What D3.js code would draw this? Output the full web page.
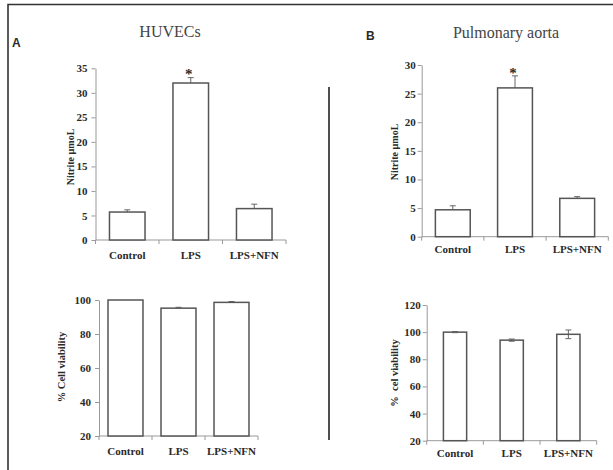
<!DOCTYPE html>
<html>
<head>
<meta charset="utf-8">
<script src="https://cdn.jsdelivr.net/npm/d3@7"></script>
<style>
  body { margin: 0; background: #fff; }
  svg { display: block; }
  text { font-family: "Liberation Serif", "Times New Roman", serif; fill: #2a2a2a; }
</style>
</head>
<body>
<svg width="613" height="470"></svg>
<script>
// categories shared by all four panels
var categories = ['Control', 'LPS', 'LPS+NFN'];

// HUVECs
var huvecNitrite = [5.7, 32.0, 6.4];
var huvecNitriteErr = [0.45, 1.1, 0.9];
var huvecViability = [100, 95.2, 98.6];
var huvecViabilityErr = [0, 0.5, 0.5];

// Pulmonary aorta
var aortaNitrite = [4.7, 26.0, 6.7];
var aortaNitriteErr = [0.7, 2.1, 0.3];
var aortaViability = [100, 94.1, 98.4];
var aortaViabilityErr = [0.4, 0.8, 3.2];

// tick labels
var nitriteTicksA = [0, 5, 10, 15, 20, 25, 30, 35];
var nitriteTicksB = [0, 5, 10, 15, 20, 25, 30];
var viabilityTicksA = [20, 40, 60, 80, 100];
var viabilityTicksB = [20, 40, 60, 80, 100, 120];

// significance markers (index of bar with *)
var starA = [1];
var starB = [1];

var serif = '"Liberation Serif", "Times New Roman", serif';
var svg = d3.select('svg');

// outer frame (only top + left visible in the crop)
svg.append('path')
    .attr('d', 'M8,470 V4.5 H613')
    .attr('fill', 'none')
    .attr('stroke', '#333')
    .attr('stroke-width', 1.6);

// divider between A and B
svg.append('line')
    .attr('x1', 329).attr('x2', 329)
    .attr('y1', 87).attr('y2', 440)
    .attr('stroke', '#222')
    .attr('stroke-width', 1.6);

// panel letters + titles
svg.append('text').attr('x', 12).attr('y', 47)
    .style('font-family', '"Liberation Sans", Arial, sans-serif')
    .style('font-size', '12px').style('font-weight', 'bold')
    .text('A');
svg.append('text').attr('x', 366).attr('y', 40)
    .style('font-family', '"Liberation Sans", Arial, sans-serif')
    .style('font-size', '12px').style('font-weight', 'bold')
    .text('B');
svg.append('text').attr('x', 170).attr('y', 37)
    .attr('text-anchor', 'middle')
    .style('font-size', '16px').style('fill', '#444')
    .text('HUVECs');
svg.append('text').attr('x', 506).attr('y', 38)
    .attr('text-anchor', 'middle')
    .style('font-size', '16px').style('fill', '#444')
    .text('Pulmonary aorta');

function drawPanel(p) {
    var g = svg.append('g');

    var x = d3.scaleBand()
        .domain(categories)
        .range([p.x0, p.x1])
        .paddingInner(p.pad)
        .paddingOuter(p.pad / 2);

    var y = d3.scaleLinear()
        .domain(p.domain)
        .range([p.yBottom, p.yTop]);

    // y axis
    var yAxis = d3.axisLeft(y)
        .tickValues(p.ticks)
        .tickSize(4)
        .tickPadding(p.tickPad)
        .tickSizeOuter(0);
    var ya = g.append('g')
        .attr('transform', 'translate(' + p.x0 + ',0)')
        .call(yAxis)
        .attr('font-family', serif)
        .attr('font-size', 11)
        .attr('font-weight', 'bold');
    ya.select('.domain').attr('stroke', '#999');
    ya.selectAll('.tick line').attr('stroke', '#999');
    ya.selectAll('.tick text').attr('fill', '#2a2a2a');

    // x axis line + boundary ticks
    g.append('line')
        .attr('x1', p.x0).attr('x2', p.x1)
        .attr('y1', p.yBottom).attr('y2', p.yBottom)
        .attr('stroke', '#999');
    var step = x.step();
    var bounds = categories.map(function(c) { return x(c) - step * p.pad / 2; });
    bounds.push(p.x1);
    g.selectAll('.xtick').data(bounds).enter()
        .append('line')
        .attr('class', 'xtick')
        .attr('x1', function(d) { return d; })
        .attr('x2', function(d) { return d; })
        .attr('y1', p.yBottom)
        .attr('y2', p.yBottom + 4)
        .attr('stroke', '#999');

    // category labels
    var xAxis = d3.axisBottom(x).tickSize(0).tickPadding(p.labelPad);
    var xa = g.append('g')
        .attr('transform', 'translate(0,' + p.yBottom + ')')
        .call(xAxis)
        .attr('font-family', serif)
        .attr('font-size', 11)
        .attr('font-weight', 'bold');
    xa.select('.domain').remove();
    xa.selectAll('.tick text').attr('fill', '#2a2a2a');

    // error bars (behind bars)
    var rows = categories.map(function(c, i) {
        return { cat: c, v: p.values[i], e: p.errors[i] };
    });
    var capW = 3;
    var eb = g.selectAll('.err').data(rows.filter(function(d) { return d.e > 0; }))
        .enter().append('g').attr('class', 'err');
    eb.append('line')
        .attr('x1', function(d) { return x(d.cat) + x.bandwidth() / 2; })
        .attr('x2', function(d) { return x(d.cat) + x.bandwidth() / 2; })
        .attr('y1', function(d) { return y(p.both ? d.v - d.e : d.v); })
        .attr('y2', function(d) { return y(d.v + d.e); })
        .attr('stroke', '#666').attr('stroke-width', 1);
    eb.append('line')
        .attr('x1', function(d) { return x(d.cat) + x.bandwidth() / 2 - capW; })
        .attr('x2', function(d) { return x(d.cat) + x.bandwidth() / 2 + capW; })
        .attr('y1', function(d) { return y(d.v + d.e); })
        .attr('y2', function(d) { return y(d.v + d.e); })
        .attr('stroke', '#666').attr('stroke-width', 1);

    // bars
    g.selectAll('.bar').data(rows).enter()
        .append('rect')
        .attr('class', 'bar')
        .attr('x', function(d) { return x(d.cat); })
        .attr('width', x.bandwidth())
        .attr('y', function(d) { return y(d.v); })
        .attr('height', function(d) { return p.yBottom - y(d.v); })
        .attr('fill', p.both ? 'none' : '#fff')
        .attr('stroke', '#555')
        .attr('stroke-width', 1.5);

    if (p.both) {
        g.selectAll('.errlow').data(rows.filter(function(d) { return d.e > 0; }))
            .enter().append('line')
            .attr('x1', function(d) { return x(d.cat) + x.bandwidth() / 2 - capW; })
            .attr('x2', function(d) { return x(d.cat) + x.bandwidth() / 2 + capW; })
            .attr('y1', function(d) { return y(d.v - d.e); })
            .attr('y2', function(d) { return y(d.v - d.e); })
            .attr('stroke', '#666').attr('stroke-width', 1);
    }

    // asterisks
    if (p.stars) {
        g.selectAll('.star').data(p.stars).enter()
            .append('text')
            .attr('x', function(i) { return x(categories[i]) + x.bandwidth() / 2 - 2; })
            .attr('y', function(i) { return y(p.values[i] + p.errors[i]) + p.starDy; })
            .attr('text-anchor', 'middle')
            .style('font-size', '15px')
            .style('font-weight', 'bold')
            .text('*');
    }

    // y label
    g.append('text')
        .attr('transform', 'translate(' + p.labelX + ',' + p.labelY + ') rotate(-90)')
        .attr('text-anchor', 'middle')
        .attr('dy', '0.35em')
        .style('font-size', p.labelSize)
        .style('font-weight', 'bold')
        .style('white-space', 'pre')
        .text(p.label);
}

drawPanel({
    x0: 95.5, x1: 286, yBottom: 240, yTop: 68.3, domain: [0, 35],
    pad: 0.44, ticks: nitriteTicksA, tickPad: 4, labelPad: 11,
    values: huvecNitrite, errors: huvecNitriteErr,
    stars: starA, starDy: 1,
    label: 'Nitrite µmoL', labelX: 70, labelY: 157, labelSize: '10px'
});

drawPanel({
    x0: 99, x1: 258, yBottom: 436, yTop: 300, domain: [20, 100],
    pad: 0.34, ticks: viabilityTicksA, tickPad: 4, labelPad: 11,
    values: huvecViability, errors: huvecViabilityErr,
    label: '% Cell viability', labelX: 61, labelY: 367, labelSize: '10.5px'
});

drawPanel({
    x0: 421.7, x1: 608.3, yBottom: 236.7, yTop: 65, domain: [0, 30],
    pad: 0.44, ticks: nitriteTicksB, tickPad: 2, labelPad: 9,
    values: aortaNitrite, errors: aortaNitriteErr,
    stars: starB, starDy: 2,
    label: 'Nitrite µmoL', labelX: 394, labelY: 152, labelSize: '10px'
});

drawPanel({
    x0: 426.7, x1: 596.7, yBottom: 440.7, yTop: 305, domain: [20, 120],
    pad: 0.59, ticks: viabilityTicksB, tickPad: 2, labelPad: 9,
    values: aortaViability, errors: aortaViabilityErr, both: true,
    label: '%  cel viability', labelX: 394, labelY: 373, labelSize: '10.5px'
});
</script>
</body>
</html>
